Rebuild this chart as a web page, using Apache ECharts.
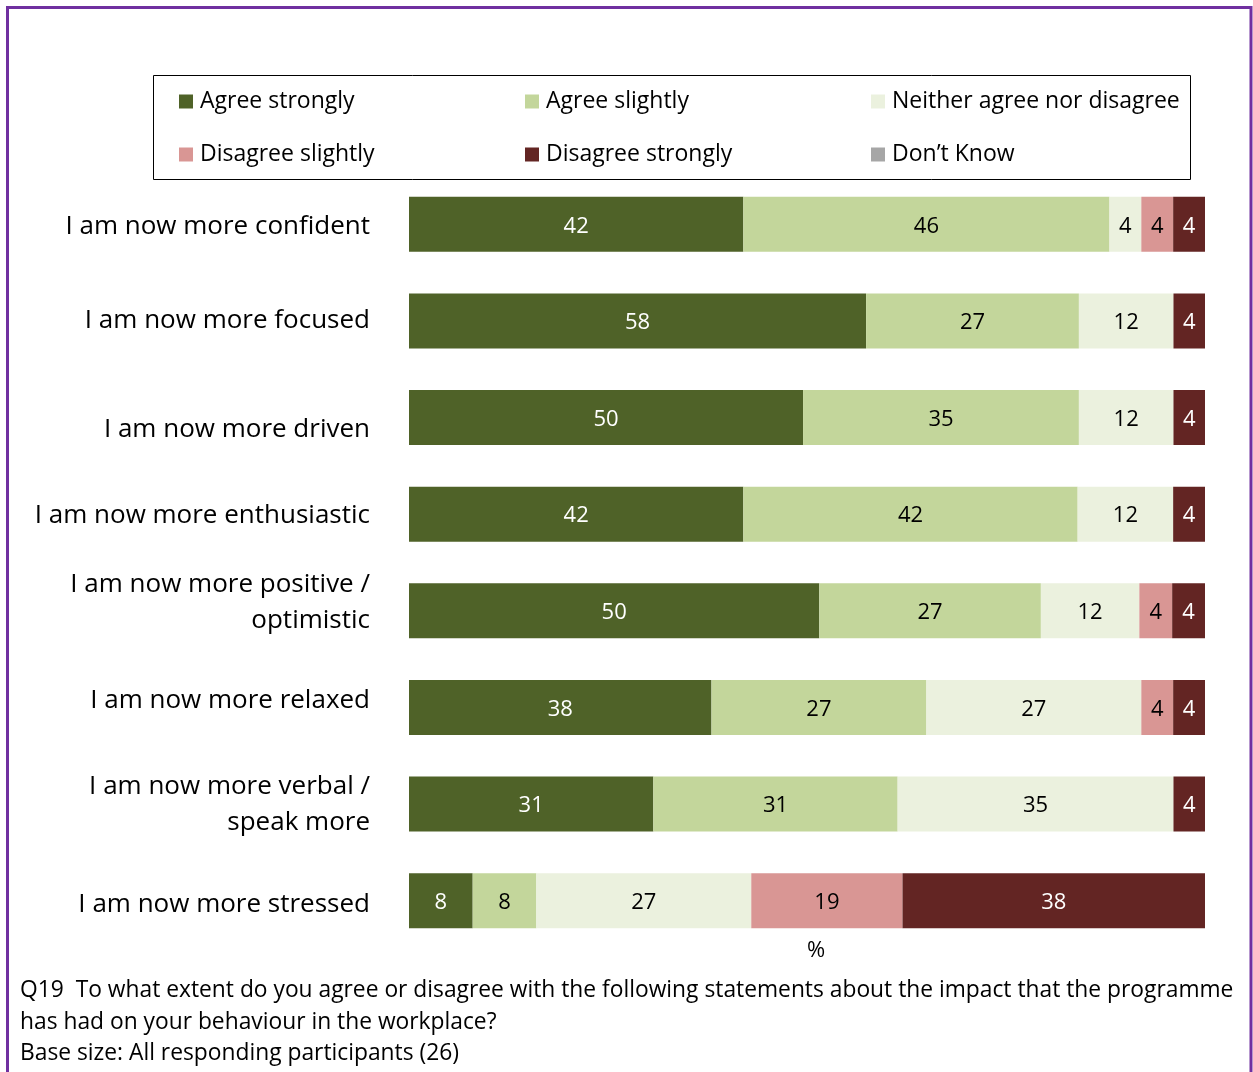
<!DOCTYPE html>
<html>
<head>
<meta charset="utf-8">
<script src="https://cdn.jsdelivr.net/npm/echarts@6/dist/echarts.min.js"></script>
<style>
  html, body { margin: 0; padding: 0; background: #ffffff; }
  #chart { width: 1253px; height: 1072px; }
</style>
</head>
<body>
<div id="chart"></div>
<script>
// Statements (top to bottom)
const statements = [
  'I am now more confident',
  'I am now more focused',
  'I am now more driven',
  'I am now more enthusiastic',
  'I am now more positive /\noptimistic',
  'I am now more relaxed',
  'I am now more verbal /\nspeak more',
  'I am now more stressed'
];

// Response shares (%) per statement
const agreeStrongly    = [42, 58, 50, 42, 50, 38, 31, 8];
const agreeSlightly    = [46, 27, 35, 42, 27, 27, 31, 8];
const neitherAgree     = [4, 12, 12, 12, 12, 27, 35, 27];
const disagreeSlightly = [4, 0, 0, 0, 4, 4, 0, 19];
const disagreeStrongly = [4, 4, 4, 4, 4, 4, 4, 38];
const dontKnow         = [0, 0, 0, 0, 0, 0, 0, 0];

const responseNames = ['Agree strongly', 'Agree slightly', 'Neither agree nor disagree',
                       'Disagree slightly', 'Disagree strongly', 'Don\u2019t Know'];
const responseValues = [agreeStrongly, agreeSlightly, neitherAgree,
                        disagreeSlightly, disagreeStrongly, dontKnow];
const responseColors = ['#4f6228', '#c3d69b', '#ebf1de', '#d99694', '#632523', '#a6a6a6'];
const labelColors    = ['#ffffff', '#000000', '#000000', '#000000', '#ffffff', '#000000'];

const FONT = '"Open Sans"';

// vertical nudge (px) of individual statement labels
const labelNudge = [2, 0, 12, 1, -8, -7, 1, 4];

// each bar is shown as a 100% stack of its row
const rowTotals = statements.map((_, i) =>
  responseValues.reduce((s, arr) => s + arr[i], 0));

const series = responseNames.map((name, k) => ({
  name: name,
  type: 'bar',
  stack: 'total',
  barWidth: 55,
  itemStyle: { color: responseColors[k] },
  label: {
    show: true,
    position: 'inside',
    offset: [0, 2],
    color: labelColors[k],
    fontFamily: FONT,
    fontSize: 22,
    formatter: p => p.data.raw
  },
  emphasis: { disabled: true },
  data: responseValues[k].map((v, i) =>
    v > 0 ? { value: v / rowTotals[i] * 100, raw: v } : null)
}));

// rich styles for the statement labels; uneven padding shifts a label vertically
const catFont = { fontFamily: FONT, fontSize: 26, color: '#000000', lineHeight: 36, align: 'right' };
const catRich = {};
statements.forEach((s, i) => {
  const d = labelNudge[i];
  const top = d > 0 ? 2 * d : 0;
  const bottom = d < 0 ? -2 * d : 0;
  catRich['t' + i] = Object.assign({}, catFont, { padding: [top, 0, bottom, 0] });
});
const formatStatement = (value, index) =>
  value.split('\n').map(line => '{t' + index + '|' + line + '}').join('\n');

const chart = echarts.init(document.getElementById('chart'), null, { renderer: 'canvas' });
chart.setOption({
  animation: false,
  backgroundColor: '#ffffff',
  textStyle: { fontFamily: FONT },
  grid: { left: 409, right: 48, top: 176, bottom: 123, containLabel: false },
  legend: {
    left: 179,
    top: 75,
    width: 1100,
    itemGap: 0,
    itemWidth: 14,
    itemHeight: 14,
    icon: 'rect',
    padding: 0,
    selectedMode: false,
    textStyle: {
      fontFamily: FONT, fontSize: 23, color: '#000000',
      width: 325, lineHeight: 52, padding: [1, 0, 0, 2]
    },
    data: responseNames
  },
  xAxis: {
    type: 'value',
    min: 0,
    max: 100,
    show: true,
    axisLine: { show: false },
    axisTick: { show: false },
    axisLabel: { show: false },
    splitLine: { show: false },
    name: '%',
    nameLocation: 'middle',
    nameGap: -9,
    nameTextStyle: { fontFamily: FONT, fontSize: 22, color: '#000000', padding: [0, 0, 0, 18] }
  },
  yAxis: {
    type: 'category',
    inverse: true,
    data: statements,
    axisLine: { show: false },
    axisTick: { show: false },
    axisLabel: {
      margin: 39,
      fontFamily: FONT,
      fontSize: 26,
      color: '#000000',
      align: 'right',
      lineHeight: 36,
      formatter: formatStatement,
      rich: catRich
    }
  },
  title: {
    left: 20,
    top: 975,
    padding: 0,
    text: 'Q19  To what extent do you agree or disagree with the following statements about the impact that the programme\nhas had on your behaviour in the workplace?\nBase size: All responding participants (26)',
    textStyle: { fontFamily: FONT, fontSize: 22.8, fontWeight: 'normal', color: '#000000', lineHeight: 31.5 }
  },
  graphic: [
    {
      type: 'rect',
      silent: true,
      shape: { x: 7.5, y: 7.5, width: 1243.5, height: 1100 },
      style: { fill: null, stroke: '#7030a0', lineWidth: 3 }
    },
    {
      type: 'rect',
      silent: true,
      shape: { x: 153.5, y: 75.5, width: 1037, height: 104 },
      style: { fill: null, stroke: '#000000', lineWidth: 1 }
    }
  ],
  series: series
});
</script>
</body>
</html>
